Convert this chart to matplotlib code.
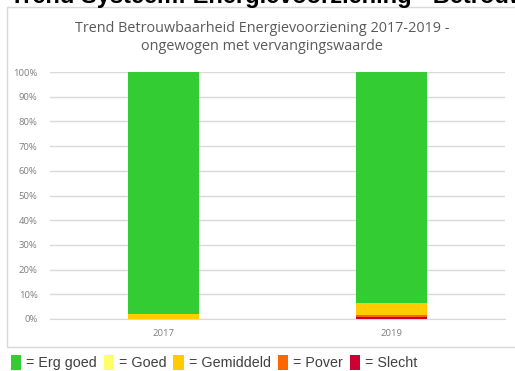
import matplotlib
matplotlib.use("Agg")
import matplotlib.pyplot as plt
from matplotlib.patches import Rectangle, Patch
from matplotlib.ticker import PercentFormatter

# data (percent of replacement value per year)
years = ["2017", "2019"]
categories = ["Slecht", "Pover", "Gemiddeld", "Goed", "Erg goed"]
slecht = [0.0, 0.8]
pover = [0.0, 0.8]
gemiddeld = [2.0, 4.9]
goed = [0.0, 0.0]
erg_goed = [98.0, 93.5]

colors = {
    "Erg goed": "#33cc33",
    "Goed": "#ffff66",
    "Gemiddeld": "#ffcc00",
    "Pover": "#ff6600",
    "Slecht": "#cc0033",
}
series = {"Slecht": slecht, "Pover": pover, "Gemiddeld": gemiddeld,
          "Goed": goed, "Erg goed": erg_goed}

W, H = 515, 371
fig = plt.figure(figsize=(W / 100, H / 100), dpi=100)
fig.patch.set_facecolor("white")

# heading of the page, cut off at the top
fig.text(10 / W, 1 - 3.5 / H, "Trend Systeem: Energievoorziening - Betrouwbaarheid",
         fontsize=17, fontweight="bold", family="Liberation Sans",
         ha="left", va="baseline", color="black")

# chart frame
fig.patches.append(Rectangle((7 / W, 1 - 347 / H), 520 / W, 340 / H,
                             transform=fig.transFigure, fill=False,
                             edgecolor="#d9d9d9", linewidth=1.0))

fig.text(262 / W, 1 - 29 / H, "Trend Betrouwbaarheid Energievoorziening 2017-2019 -",
         fontsize=10.4, family="Open Sans", color="#595959", ha="center", va="center")
fig.text(262 / W, 1 - 47 / H, "ongewogen met vervangingswaarde",
         fontsize=10.4, family="Open Sans", color="#595959", ha="center", va="center")

ax = fig.add_axes([50 / W, 1 - 319 / H, 455 / W, 247 / H])
x = range(len(years))
bottom = [0.0] * len(years)
for name in categories:
    vals = series[name]
    ax.bar(x, vals, bottom=bottom, width=0.31, color=colors[name],
           edgecolor="none", zorder=3)
    bottom = [b + v for b, v in zip(bottom, vals)]

ax.set_ylim(0, 100)
ax.set_xlim(-0.5, len(years) - 0.5)
ax.set_yticks(range(0, 101, 10))
ax.yaxis.set_major_formatter(PercentFormatter(decimals=0))
ax.set_xticks(list(x))
ax.set_xticklabels(years)
ax.grid(axis="y", color="#d9d9d9", linewidth=1.0, zorder=0)
for s in ["top", "right", "left"]:
    ax.spines[s].set_visible(False)
ax.spines["bottom"].set_color("#d9d9d9")
ax.tick_params(axis="both", length=0, labelsize=6.8, labelcolor="#7f7f7f",
               labelfontfamily="Open Sans")
ax.tick_params(axis="y", pad=9)
ax.tick_params(axis="x", pad=7)

# legend below the frame
legend_order = ["Erg goed", "Goed", "Gemiddeld", "Pover", "Slecht"]
handles = [Patch(facecolor=colors[n], edgecolor="none") for n in legend_order]
labels = ["= " + n for n in legend_order]
fig.legend(handles, labels, ncol=5, loc="lower left",
           bbox_to_anchor=(5 / W, -5 / H), frameon=False,
           prop={"family": "Liberation Sans", "size": 10.3},
           labelcolor="#404040", handlelength=0.75, handleheight=1.2,
           handletextpad=0.35, columnspacing=0.45, borderaxespad=0)

fig.savefig("out.png", dpi=100)
